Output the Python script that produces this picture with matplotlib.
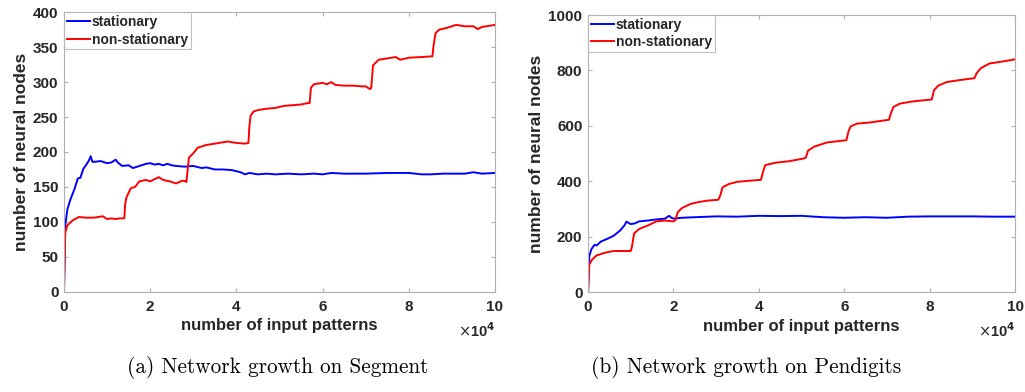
import matplotlib
matplotlib.use("Agg")
import matplotlib.pyplot as plt

# ---- data (x in units of 1e4 input patterns) ----
seg_stat_x = [0, 0.03, 0.08, 0.15, 0.25, 0.32, 0.38, 0.45, 0.52, 0.58, 0.62, 0.66, 0.72, 0.85, 1.0, 1.1, 1.2, 1.25,
              1.35, 1.5, 1.6, 1.7, 1.8, 1.9, 2.0, 2.1, 2.2, 2.3, 2.4, 2.5, 2.6, 2.8, 3.0, 3.2, 3.3, 3.5, 3.7,
              3.9, 4.1, 4.2, 4.3, 4.5, 4.7, 4.9, 5.2, 5.5, 5.8, 6.0, 6.2, 6.5, 7.0, 7.5, 8.0, 8.3, 8.5, 8.8,
              9.0, 9.3, 9.5, 9.7, 10.0]
seg_stat_y = [0, 95, 118, 132, 148, 162, 163, 176, 182, 188, 194, 186, 186, 187, 184, 185, 189, 185,
              180, 181, 177, 179, 181, 183, 184, 182, 183, 181, 183, 181, 180, 179, 180, 177, 178, 175, 175,
              174, 171, 168, 170, 168, 169, 168, 169, 168, 169, 168, 170, 169, 169, 170, 170, 168, 168, 169,
              169, 169, 171, 169, 170]

seg_non_x = [0, 0.03, 0.08, 0.2, 0.35, 0.5, 0.7, 0.9, 1.0, 1.1, 1.2, 1.3, 1.4, 1.42, 1.45, 1.55, 1.65, 1.75,
             1.9, 2.0, 2.1, 2.2, 2.3, 2.45, 2.6, 2.75, 2.82, 2.84, 2.9, 3.0, 3.1, 3.3, 3.5, 3.7, 3.8, 4.0,
             4.2, 4.28, 4.3, 4.33, 4.4, 4.5, 4.7, 4.9, 5.1, 5.3, 5.5, 5.65, 5.7, 5.73, 5.8, 6.0, 6.1, 6.2,
             6.3, 6.5, 6.7, 6.9, 7.0, 7.1, 7.13, 7.17, 7.3, 7.5, 7.7, 7.8, 8.0, 8.3, 8.55, 8.57, 8.62,
             8.7, 8.9, 9.1, 9.3, 9.5, 9.6, 9.7, 9.9, 10.0]
seg_non_y = [0, 85, 95, 102, 107, 106, 106, 108, 104, 105, 104, 105, 105, 125, 135, 148, 150, 158,
             160, 158, 161, 164, 160, 158, 155, 159, 158, 157, 192, 198, 206, 210, 212, 214, 215, 213,
             212, 213, 235, 252, 258, 260, 262, 263, 266, 267, 268, 270, 270, 292, 297, 299, 297, 300,
             296, 295, 295, 294, 294, 290, 292, 324, 332, 334, 336, 332, 335, 336, 337, 350, 370,
             375, 378, 382, 380, 380, 376, 379, 381, 382]

pen_stat_x = [0, 0.03, 0.08, 0.15, 0.2, 0.3, 0.45, 0.6, 0.75, 0.85, 0.9, 1.0, 1.1, 1.2, 1.4, 1.6, 1.8, 1.9,
              1.95, 2.0, 2.2, 2.5, 3.0, 3.5, 4.0, 4.5, 5.0, 5.5, 6.0, 6.5, 7.0, 7.5, 8.0, 8.5, 9.0, 9.5, 10.0]
pen_stat_y = [0, 130, 155, 170, 168, 182, 192, 203, 222, 240, 254, 245, 248, 255, 258, 262, 265, 275,
              268, 265, 268, 270, 273, 272, 275, 274, 275, 270, 268, 270, 268, 272, 273, 273, 273, 272, 272]

pen_non_x = [0, 0.03, 0.1, 0.2, 0.4, 0.6, 0.8, 1.0, 1.03, 1.08, 1.2, 1.4, 1.6, 1.8, 2.0, 2.05, 2.1, 2.2,
             2.4, 2.6, 2.8, 3.05, 3.1, 3.15, 3.3, 3.5, 3.8, 4.05, 4.1, 4.15, 4.4, 4.7, 5.05, 5.1, 5.15, 5.3,
             5.6, 6.05, 6.1, 6.15, 6.3, 6.6, 7.05, 7.08, 7.15, 7.3, 7.6, 8.05, 8.1, 8.2, 8.4, 8.7, 9.05,
             9.1, 9.2, 9.4, 9.7, 10.0]
pen_non_y = [0, 100, 118, 132, 142, 148, 148, 148, 165, 212, 228, 240, 255, 258, 255, 260, 288, 303,
             318, 325, 330, 333, 350, 378, 390, 398, 402, 405, 435, 458, 467, 472, 482, 485, 510, 525,
             540, 548, 580, 598, 608, 612, 622, 640, 668, 680, 688, 695, 728, 745, 758, 765, 772,
             790, 808, 825, 832, 840]

panels = [
    ("(a) Network growth on Segment", seg_stat_x, seg_stat_y, seg_non_x, seg_non_y,
     [0, 400], [0, 50, 100, 150, 200, 250, 300, 350, 400]),
    ("(b) Network growth on Pendigits", pen_stat_x, pen_stat_y, pen_non_x, pen_non_y,
     [0, 1000], [0, 200, 400, 600, 800, 1000]),
]
xticks = [0, 2, 4, 6, 8, 10]

plt.rcParams['font.family'] = ['Liberation Sans', 'DejaVu Sans']
fig = plt.figure(figsize=(10.25, 3.92), dpi=100)
positions = [[0.0624, 0.2559, 0.4205, 0.7127], [0.5737, 0.2551, 0.4166, 0.7066]]
caption_x = [0.271, 0.728]
frame = '#b0b0b0'
txt = '#262626'
for (cap, sx, sy, nx, ny, ylim, yticks), pos, cx in zip(panels, positions, caption_x):
    ax = fig.add_axes(pos)
    ax.plot(sx, sy, color='#0000ff', lw=1.4, label='stationary')
    ax.plot(nx, ny, color='#ff0000', lw=1.4, label='non-stationary')
    ax.set_xlim(0, 10)
    ax.set_ylim(*ylim)
    ax.set_xticks(xticks)
    ax.set_yticks(yticks)
    ax.set_xticklabels([str(t) for t in xticks], fontweight='bold', fontsize=11, color=txt)
    ax.set_yticklabels([str(t) for t in yticks], fontweight='bold', fontsize=11, color=txt)
    ax.tick_params(axis='x', direction='in', length=3, color=frame, top=True, pad=6)
    ax.tick_params(axis='y', direction='in', length=3, color=frame, right=True, pad=4)
    for s in ax.spines.values():
        s.set_color(frame)
        s.set_linewidth(0.8)
    ax.set_xlabel('number of input patterns', fontweight='bold', fontsize=12, color=txt, labelpad=3)
    ax.set_ylabel('number of neural nodes', fontweight='bold', fontsize=12.5, color=txt, labelpad=3)
    ax.text(1.0, -0.105, r'$\times$10$^{\mathbf{4}}$', transform=ax.transAxes, ha='right', va='top',
            fontsize=10.5, fontweight='bold', color=txt)
    leg = ax.legend(loc='upper left', prop={'weight': 'bold', 'size': 10},
                    frameon=True, fancybox=False, borderaxespad=0, handlelength=1.7,
                    handletextpad=0.1, borderpad=0.2, labelspacing=0.25)
    leg.get_frame().set_edgecolor(frame)
    leg.get_frame().set_linewidth(0.8)
    for t in leg.get_texts():
        t.set_color(txt)
    fig.text(cx, 0.063, cap, ha='center', va='center', fontsize=15.3, family='cmr10')

fig.savefig('out.png', dpi=100)
